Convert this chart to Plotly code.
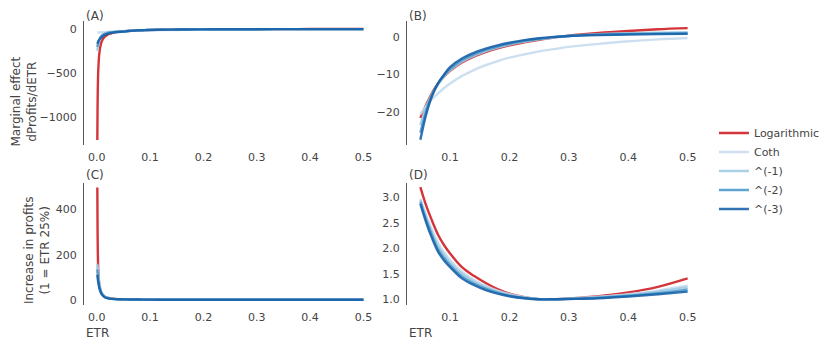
import plotly.graph_objects as go
from plotly.subplots import make_subplots

# ---------------- data ----------------
etr = [0.001, 0.002, 0.003, 0.005, 0.0075, 0.01, 0.015, 0.02, 0.025, 0.03, 0.035, 0.04, 0.045,
       0.05, 0.06, 0.07, 0.08, 0.09, 0.10, 0.12, 0.14, 0.16, 0.18, 0.20, 0.225, 0.25,
       0.275, 0.30, 0.35, 0.40, 0.45, 0.50]

series_names = ["Logarithmic", "Coth", "^(-1)", "^(-2)", "^(-3)"]
series_colors = ["#cf1a20", "#c6dbef", "#9ecae1", "#4a98cc", "#1660a8"]

# marginal effect dProfits/dETR
me_log = [-1255, -640, -430, -260, -172, -128, -84, -62, -49, -40, -33, -28.5, -24.8,
          -21.6, -18.0, -14.8, -12.3, -10.5, -9.0, -6.8, -5.2, -4.0, -3.0, -2.2, -1.4, -0.7,
          -0.1, 0.4, 1.1, 1.65, 2.1, 2.4]
me_coth = [-38, -38, -37.5, -37, -36, -35, -33, -31, -29, -27, -25.5, -23.5, -22,
           -20.6, -18.3, -16.5, -15.0, -13.6, -12.4, -10.4, -8.8, -7.5, -6.4, -5.5, -4.6, -3.8,
           -3.2, -2.6, -1.8, -1.1, -0.6, -0.25]
me_p1 = [-245, -200, -165, -120, -88, -70, -50, -40, -34, -30, -27.5, -25.5, -24.2,
         -23.5, -18.6, -15.0, -12.5, -10.5, -8.9, -6.6, -5.0, -3.8, -2.8, -2.0, -1.25, -0.6,
         -0.1, 0.3, 0.8, 1.05, 1.2, 1.3]
me_p2 = [-200, -170, -145, -112, -86, -70, -52, -43, -37, -33, -30, -28, -26.6,
         -25.5, -19.6, -15.3, -12.4, -10.2, -8.5, -6.1, -4.6, -3.4, -2.5, -1.75, -1.0, -0.45,
         0.0, 0.3, 0.65, 0.85, 0.95, 1.05]
me_p3 = [-165, -150, -138, -118, -100, -85, -66, -54, -45, -39, -34.5, -31, -29,
         -27.4, -20.5, -15.6, -12.3, -10.0, -8.0, -5.7, -4.2, -3.1, -2.2, -1.5, -0.8, -0.3,
         0.05, 0.3, 0.55, 0.7, 0.8, 0.85]

# increase in profits (1 = ETR 25%)
pr_log = [496, 200, 118, 62, 37, 25, 14.5, 10.0, 7.5, 5.9, 4.8, 4.1, 3.6,
          3.20, 2.83, 2.53, 2.26, 2.06, 1.90, 1.63, 1.46, 1.32, 1.20, 1.11, 1.04, 1.00,
          1.00, 1.015, 1.06, 1.135, 1.245, 1.41]
pr_coth = [150, 120, 98, 66, 42, 29, 15.5, 9.6, 6.7, 5.1, 4.2, 3.6, 3.25,
           2.97, 2.64, 2.35, 2.10, 1.92, 1.77, 1.54, 1.38, 1.26, 1.17, 1.10, 1.04, 1.00,
           1.00, 1.015, 1.05, 1.10, 1.17, 1.27]
pr_p1 = [160, 128, 102, 68, 43, 29, 15, 9.3, 6.5, 5.0, 4.1, 3.5, 3.2,
         2.95, 2.60, 2.30, 2.04, 1.87, 1.72, 1.50, 1.35, 1.24, 1.15, 1.085, 1.03, 1.00,
         1.00, 1.01, 1.04, 1.085, 1.15, 1.23]
pr_p2 = [135, 108, 88, 59, 38, 26, 13.7, 8.6, 6.1, 4.8, 3.9, 3.4, 3.12,
         2.91, 2.55, 2.24, 1.98, 1.81, 1.67, 1.45, 1.31, 1.21, 1.13, 1.07, 1.025, 1.00,
         1.00, 1.008, 1.03, 1.07, 1.12, 1.19]
pr_p3 = [111, 90, 74, 50, 33, 23, 12.5, 8.0, 5.8, 4.6, 3.8, 3.3, 3.05,
         2.87, 2.50, 2.19, 1.93, 1.76, 1.63, 1.41, 1.28, 1.18, 1.11, 1.06, 1.02, 1.00,
         1.00, 1.005, 1.02, 1.055, 1.10, 1.15]

zoom_start = 0.05  # panels B and D start here

x_ticks_full = [0.0, 0.1, 0.2, 0.3, 0.4, 0.5]
x_ticks_zoom = [0.1, 0.2, 0.3, 0.4, 0.5]
ticks_a = [-1000, -500, 0]
ticks_b = [-20, -10, 0]
ticks_c = [0, 200, 400]
ticks_d = [1.0, 1.5, 2.0, 2.5, 3.0]

# axis ranges
x_range_full = [-0.024, 0.5245]
x_range_zoom = [0.0275, 0.5225]
y_range_a = [-1311, 93]
y_range_b = [-28.8, 4.3]
y_range_c = [-22, 516]
y_range_d = [0.888, 3.28]

me_series = [me_log, me_coth, me_p1, me_p2, me_p3]
pr_series = [pr_log, pr_coth, pr_p1, pr_p2, pr_p3]

# ---------------- figure ----------------
FONT = "DejaVu Sans"
TXT = "#444444"

fig = make_subplots(rows=2, cols=2)

idx_zoom = [i for i, v in enumerate(etr) if v >= zoom_start]


def sub(lst, idx):
    return [lst[i] for i in idx]


for k, name in enumerate(series_names):
    col = series_colors[k]
    common = dict(mode="lines", line=dict(color=col, width=2.4), opacity=0.88,
                  line_shape="spline", legendgroup=name, name=name)
    fig.add_trace(go.Scatter(x=etr, y=me_series[k], showlegend=True, **common), row=1, col=1)
    fig.add_trace(go.Scatter(x=sub(etr, idx_zoom), y=sub(me_series[k], idx_zoom),
                             showlegend=False, **common), row=1, col=2)
    fig.add_trace(go.Scatter(x=etr, y=pr_series[k], showlegend=False, **common), row=2, col=1)
    fig.add_trace(go.Scatter(x=sub(etr, idx_zoom), y=sub(pr_series[k], idx_zoom),
                             showlegend=False, **common), row=2, col=2)

xaxis_style = dict(showgrid=False, zeroline=False, showline=False, ticks="",
                   ticklabelstandoff=4,
                   tickfont=dict(family=FONT, size=11, color=TXT), tickformat=".1f")
yaxis_style = dict(showgrid=False, zeroline=False, showline=True, linecolor="#555555",
                   linewidth=1.3, ticks="", ticklabelstandoff=4,
                   tickfont=dict(family=FONT, size=11, color=TXT))

fig.update_xaxes(**xaxis_style)
fig.update_yaxes(**yaxis_style)

dom_left = [0.0, 0.474]
dom_right = [0.5235, 1.0]
dom_top = [0.5634, 1.0]
dom_bottom = [0.0, 0.4296]

fig.update_xaxes(range=x_range_full, tickvals=x_ticks_full, domain=dom_left, row=1, col=1)
fig.update_xaxes(range=x_range_full, tickvals=x_ticks_full, domain=dom_left, row=2, col=1)
fig.update_xaxes(range=x_range_zoom, tickvals=x_ticks_zoom, domain=dom_right, row=1, col=2)
fig.update_xaxes(range=x_range_zoom, tickvals=x_ticks_zoom, domain=dom_right, row=2, col=2)
fig.update_yaxes(range=y_range_a, tickvals=ticks_a, domain=dom_top, row=1, col=1)
fig.update_yaxes(range=y_range_b, tickvals=ticks_b, domain=dom_top, row=1, col=2)
fig.update_yaxes(range=y_range_c, tickvals=ticks_c, domain=dom_bottom, row=2, col=1)
fig.update_yaxes(range=y_range_d, tickvals=ticks_d, tickformat=".1f", domain=dom_bottom, row=2, col=2)

ann_font = dict(family=FONT, size=12, color=TXT)
annotations = [
    dict(text="(A)", xref="x domain", yref="y domain", x=0, y=1.044, xanchor="left", yanchor="middle"),
    dict(text="(B)", xref="x2 domain", yref="y2 domain", x=0, y=1.044, xanchor="left", yanchor="middle"),
    dict(text="(C)", xref="x3 domain", yref="y3 domain", x=0, y=1.065, xanchor="left", yanchor="middle"),
    dict(text="(D)", xref="x4 domain", yref="y4 domain", x=0, y=1.065, xanchor="left", yanchor="middle"),
    dict(text="ETR", xref="x3 domain", yref="paper", x=0, y=-0.0986, xanchor="left", yanchor="middle"),
    dict(text="ETR", xref="x4 domain", yref="paper", x=0, y=-0.0986, xanchor="left", yanchor="middle"),
    dict(text="Marginal effect<br>dProfits/dETR", xref="paper", yref="paper", x=-0.0965, y=0.718,
         xanchor="center", yanchor="middle", textangle=-90),
    dict(text="Increase in profits<br>(1 = ETR 25%)", xref="paper", yref="paper", x=-0.076, y=0.1937,
         xanchor="center", yanchor="middle", textangle=-90),
]
for a in annotations:
    a.update(showarrow=False, font=ann_font)
fig.update_layout(annotations=annotations)

# the page adds an 8px body margin, so the figure is drawn 8px smaller and offset
fig.update_layout(
    width=823, height=340,
    margin=dict(l=76, r=130, t=13, b=43, autoexpand=False),
    paper_bgcolor="white", plot_bgcolor="white",
    font=dict(family=FONT, size=11, color=TXT),
    legend=dict(x=1.021, xanchor="left", y=0.472, yanchor="middle",
                font=dict(family=FONT, size=11, color=TXT), tracegroupgap=0,
                bgcolor="rgba(0,0,0,0)"),
    showlegend=True,
)

fig.write_html("out.html")
